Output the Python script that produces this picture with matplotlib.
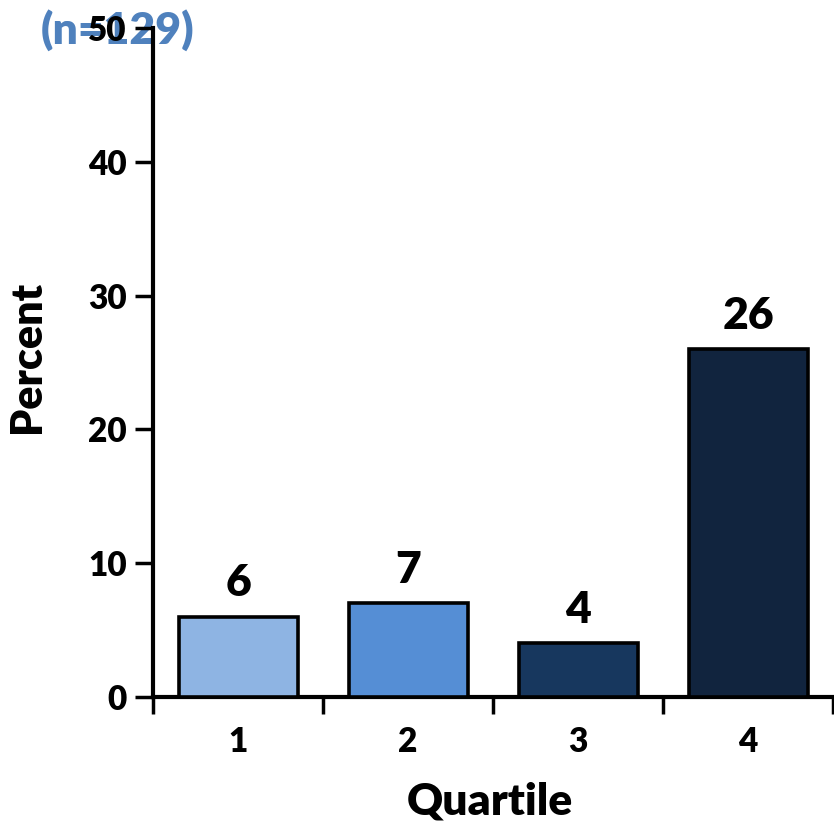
import matplotlib
matplotlib.use('Agg')
import matplotlib.pyplot as plt

plt.rcParams['font.family'] = ['Lato', 'DejaVu Sans']
plt.rcParams['font.weight'] = 'heavy'

quartiles = ['1', '2', '3', '4']
percents = [6, 7, 4, 26]
bar_colors = ['#8EB4E3', '#558ED5', '#17375E', '#11243E']
n_label = '(n=129)'

fig = plt.figure(figsize=(8.34, 8.23), dpi=100)
ax = fig.add_axes([0.1835, 0.1531, 0.8153, 0.8129])

xs = range(len(quartiles))
bars = ax.bar(xs, percents, width=0.7, color=bar_colors, edgecolor='black', linewidth=2.6, zorder=3)
for x, v in zip(xs, percents):
    ax.text(x, v + 1.0, str(v), ha='center', va='bottom', fontsize=32, fontweight='heavy')

ax.set_xlim(-0.5, 3.5)
ax.set_ylim(0, 50)
ax.set_yticks([0, 10, 20, 30, 40, 50])

# category labels in the middle, tick marks between categories
ax.set_xticks(list(xs))
ax.set_xticklabels(quartiles)
ax.set_xticks([-0.5, 0.5, 1.5, 2.5, 3.5], minor=True)
ax.tick_params(axis='x', which='major', length=0, pad=21, labelsize=24)
ax.tick_params(axis='x', which='minor', length=12, width=2.5, direction='out')
ax.tick_params(axis='y', length=13, width=2.5, direction='out', pad=6, labelsize=24)

for s in ['top', 'right']:
    ax.spines[s].set_visible(False)
for s in ['left', 'bottom']:
    ax.spines[s].set_linewidth(3)

fig.text(27 / 834, 0.566, 'Percent', rotation=90, ha='center', va='center',
         fontsize=31, fontweight='heavy')
fig.text(490 / 834, 0.026, 'Quartile', ha='center', va='center',
         fontsize=32, fontweight='heavy')

# sample size sits behind the top tick label
ax.text(0.141, 0.963, n_label, transform=fig.transFigure, ha='center', va='center',
        fontsize=32, fontweight='heavy', color='#4F81BD', zorder=0, clip_on=False)

fig.savefig('out.png', dpi=100)
